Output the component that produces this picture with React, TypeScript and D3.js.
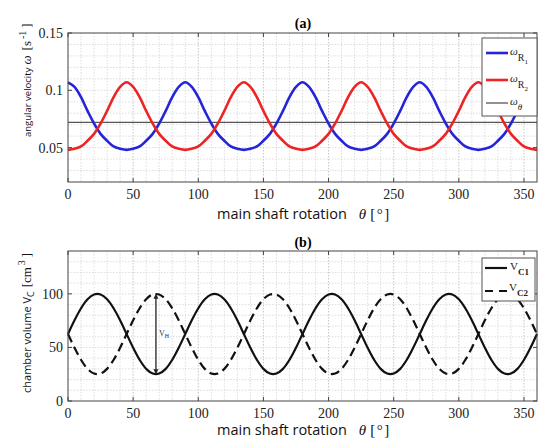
import React from "react";
import * as d3 from "d3";

// main shaft angle samples (deg)
const theta = [
  0, 5, 10, 15, 20, 25, 30, 35, 40, 45, 50, 55, 60, 65, 70, 75, 80, 85, 90, 95,
  100, 105, 110, 115, 120, 125, 130, 135, 140, 145, 150, 155, 160, 165, 170,
  175, 180, 185, 190, 195, 200, 205, 210, 215, 220, 225, 230, 235, 240, 245,
  250, 255, 260, 265, 270, 275, 280, 285, 290, 295, 300, 305, 310, 315, 320,
  325, 330, 335, 340, 345, 350, 355, 360,
];

// (a) angular velocities
const omegaR1 = [
  0.107, 0.103, 0.094, 0.082, 0.071, 0.062, 0.056, 0.051, 0.049, 0.048, 0.049,
  0.051, 0.056, 0.062, 0.071, 0.082, 0.094, 0.103, 0.107, 0.103, 0.094, 0.082,
  0.071, 0.062, 0.056, 0.051, 0.049, 0.048, 0.049, 0.051, 0.056, 0.062, 0.071,
  0.082, 0.094, 0.103, 0.107, 0.103, 0.094, 0.082, 0.071, 0.062, 0.056, 0.051,
  0.049, 0.048, 0.049, 0.051, 0.056, 0.062, 0.071, 0.082, 0.094, 0.103, 0.107,
  0.103, 0.094, 0.082, 0.071, 0.062, 0.056, 0.051, 0.049, 0.048, 0.049, 0.051,
  0.056, 0.062, 0.071, 0.082, 0.094, 0.103, 0.107,
];
const omegaR2 = [
  0.048, 0.049, 0.051, 0.056, 0.062, 0.071, 0.082, 0.094, 0.103, 0.107, 0.103,
  0.094, 0.082, 0.071, 0.062, 0.056, 0.051, 0.049, 0.048, 0.049, 0.051, 0.056,
  0.062, 0.071, 0.082, 0.094, 0.103, 0.107, 0.103, 0.094, 0.082, 0.071, 0.062,
  0.056, 0.051, 0.049, 0.048, 0.049, 0.051, 0.056, 0.062, 0.071, 0.082, 0.094,
  0.103, 0.107, 0.103, 0.094, 0.082, 0.071, 0.062, 0.056, 0.051, 0.049, 0.048,
  0.049, 0.051, 0.056, 0.062, 0.071, 0.082, 0.094, 0.103, 0.107, 0.103, 0.094,
  0.082, 0.071, 0.062, 0.056, 0.051, 0.049, 0.048,
];
const omegaTheta = 0.072;

// (b) chamber volumes
const vC1 = [
  62.5, 75.3, 86.6, 95.0, 99.4, 99.4, 95.0, 86.6, 75.3, 62.5, 49.7, 38.4, 30.0,
  25.6, 25.6, 30.0, 38.4, 49.7, 62.5, 75.3, 86.6, 95.0, 99.4, 99.4, 95.0, 86.6,
  75.3, 62.5, 49.7, 38.4, 30.0, 25.6, 25.6, 30.0, 38.4, 49.7, 62.5, 75.3, 86.6,
  95.0, 99.4, 99.4, 95.0, 86.6, 75.3, 62.5, 49.7, 38.4, 30.0, 25.6, 25.6, 30.0,
  38.4, 49.7, 62.5, 75.3, 86.6, 95.0, 99.4, 99.4, 95.0, 86.6, 75.3, 62.5, 49.7,
  38.4, 30.0, 25.6, 25.6, 30.0, 38.4, 49.7, 62.5,
];
const vC2 = [
  62.5, 49.7, 38.4, 30.0, 25.6, 25.6, 30.0, 38.4, 49.7, 62.5, 75.3, 86.6, 95.0,
  99.4, 99.4, 95.0, 86.6, 75.3, 62.5, 49.7, 38.4, 30.0, 25.6, 25.6, 30.0, 38.4,
  49.7, 62.5, 75.3, 86.6, 95.0, 99.4, 99.4, 95.0, 86.6, 75.3, 62.5, 49.7, 38.4,
  30.0, 25.6, 25.6, 30.0, 38.4, 49.7, 62.5, 75.3, 86.6, 95.0, 99.4, 99.4, 95.0,
  86.6, 75.3, 62.5, 49.7, 38.4, 30.0, 25.6, 25.6, 30.0, 38.4, 49.7, 62.5, 75.3,
  86.6, 95.0, 99.4, 99.4, 95.0, 86.6, 75.3, 62.5,
];
// V_H marker: angle and volume span
const vHTheta = 67.5;
const vHRange = [25, 100];

const xTicks = [0, 50, 100, 150, 200, 250, 300, 350];
const omegaTicks = [0.05, 0.1, 0.15];
const volumeTicks = [0, 50, 100];

const W = 539;
const H = 439;
const SERIF = "'Liberation Serif', 'Times New Roman', serif";
const SANS = "'Open Sans', 'Liberation Sans', sans-serif";

const x = d3.scaleLinear().domain([0, 360]).range([68, 537]);

function Frame({ y, ticks, minor, fmt }) {
  const [yb, yt] = y.range();
  const [x0, x1] = x.range();
  const xMinor = d3.range(10, 360, 10);
  return (
    <g>
      <rect x={x0} y={yt} width={x1 - x0} height={yb - yt} fill="#fff" />
      {xMinor.map((v) => (
        <line key={"gx" + v} x1={x(v)} x2={x(v)} y1={yt} y2={yb}
          stroke={v % 50 === 0 ? "#b8b8b8" : "#d4d4d4"} strokeWidth={0.8} strokeDasharray="1.5,1.5" />
      ))}
      {minor.map((v) => (
        <line key={"gy" + v} x1={x0} x2={x1} y1={y(v)} y2={y(v)}
          stroke="#d4d4d4" strokeWidth={0.8} strokeDasharray="1.5,1.5" />
      ))}
      {xTicks.map((v) => (
        <g key={"tx" + v}>
          <line x1={x(v)} x2={x(v)} y1={yb} y2={yb - 4} stroke="#444" />
          <line x1={x(v)} x2={x(v)} y1={yt} y2={yt + 4} stroke="#444" />
          <text x={x(v)} y={yb + 17} textAnchor="middle" fontFamily={SERIF} fontSize={14} fill="#222">
            {v}
          </text>
        </g>
      ))}
      {ticks.map((v) => (
        <g key={"ty" + v}>
          <line x1={x0} x2={x0 + 4} y1={y(v)} y2={y(v)} stroke="#444" />
          <line x1={x1} x2={x1 - 4} y1={y(v)} y2={y(v)} stroke="#444" />
          <text x={x0 - 5} y={y(v) + 5} textAnchor="end" fontFamily={SERIF} fontSize={14} fill="#222">
            {fmt(v)}
          </text>
        </g>
      ))}
    </g>
  );
}

function Box({ y }) {
  const [yb, yt] = y.range();
  const [x0, x1] = x.range();
  return <rect x={x0} y={yt} width={x1 - x0} height={yb - yt} fill="none" stroke="#444" strokeWidth={1} />;
}

function XLabel({ baseline }) {
  return (
    <text x={217} y={baseline} fontFamily={SANS} fontSize={14.5} fill="#111">
      main shaft rotation
      <tspan dx={12} fontFamily={SERIF} fontStyle="italic" fontSize={15}>θ</tspan>
      <tspan dx={4} fontFamily={SERIF} fontSize={15} letterSpacing={1.5}>[°]</tspan>
    </text>
  );
}

export default function App() {
  const yA = d3.scaleLinear().domain([0.02, 0.15]).range([182, 33]);
  const yB = d3.scaleLinear().domain([0, 140]).range([401, 251]);

  const curve = d3.curveCatmullRom.alpha(0.5);
  const lineA = d3.line<number>().x((_, i) => x(theta[i])).y((d) => yA(d)).curve(curve);
  const lineB = d3.line<number>().x((_, i) => x(theta[i])).y((d) => yB(d)).curve(curve);

  const vx = x(vHTheta);
  const vLo = yB(vHRange[0]);
  const vHi = yB(vHRange[1]);

  return (
    <svg width={W} height={H} style={{ position: "absolute", left: 0, top: 0, background: "#fff" }}>
      {/* ---------- (a) ---------- */}
      <text x={303} y={28} textAnchor="middle" fontFamily={SERIF} fontWeight="bold" fontSize={14}>(a)</text>
      <Frame y={yA} ticks={omegaTicks} minor={d3.range(0.03, 0.145, 0.01)} fmt={(v) => String(+v.toFixed(2))} />
      <line x1={x(0)} x2={x(360)} y1={yA(omegaTheta)} y2={yA(omegaTheta)} stroke="#555" strokeWidth={1.3} />
      <path d={lineA(omegaR1)} fill="none" stroke="#2424d8" strokeWidth={2.6} />
      <path d={lineA(omegaR2)} fill="none" stroke="#ec2424" strokeWidth={2.6} />
      <Box y={yA} />
      <g>
        <rect x={482} y={38} width={55} height={78} fill="#fff" stroke="#555" strokeWidth={1} />
        <line x1={486} x2={508} y1={53} y2={53} stroke="#2424d8" strokeWidth={2.6} />
        <line x1={486} x2={508} y1={80} y2={80} stroke="#ec2424" strokeWidth={2.6} />
        <line x1={486} x2={508} y1={103} y2={103} stroke="#555" strokeWidth={1.3} />
        <text x={510} y={55} fontFamily={SERIF} fontSize={11} fill="#222">
          <tspan fontStyle="italic">ω</tspan>
          <tspan dy={6} fontSize={10}>R</tspan>
          <tspan dy={3} fontSize={7}>1</tspan>
        </text>
        <text x={510} y={82} fontFamily={SERIF} fontSize={11} fill="#222">
          <tspan fontStyle="italic">ω</tspan>
          <tspan dy={6} fontSize={10}>R</tspan>
          <tspan dy={3} fontSize={7}>2</tspan>
        </text>
        <text x={510} y={105} fontFamily={SERIF} fontSize={11} fill="#222">
          <tspan fontStyle="italic">ω</tspan>
          <tspan dy={5} fontSize={9} fontStyle="italic">θ</tspan>
        </text>
      </g>
      <text transform="translate(31,137) rotate(-90)" fontFamily={SANS} fontSize={9.5} fill="#111">
        angular velocity
        <tspan dx={3} fontFamily={SERIF} fontStyle="italic" fontSize={13}>ω</tspan>
        <tspan dx={5} fontFamily={SERIF} fontSize={13}>[s</tspan>
        <tspan dx={2} dy={-5} fontFamily={SERIF} fontSize={10}>-1</tspan>
        <tspan dx={3} dy={5} fontFamily={SERIF} fontSize={13}>]</tspan>
      </text>
      <XLabel baseline={219} />

      {/* ---------- (b) ---------- */}
      <text x={303} y={247} textAnchor="middle" fontFamily={SERIF} fontWeight="bold" fontSize={14}>(b)</text>
      <Frame y={yB} ticks={volumeTicks} minor={d3.range(10, 140, 10)} fmt={(v) => String(v)} />
      <path d={lineB(vC2)} fill="none" stroke="#111" strokeWidth={2.2} strokeDasharray="9,5" />
      <path d={lineB(vC1)} fill="none" stroke="#111" strokeWidth={2.2} />
      <line x1={vx} x2={vx} y1={vHi + 2} y2={vLo - 2} stroke="#222" strokeWidth={1.3} />
      <path d={`M${vx},${vHi} l-2.5,5 h5 z`} fill="#222" />
      <path d={`M${vx},${vLo} l-2.5,-5 h5 z`} fill="#222" />
      <text x={vx + 3} y={336} fontFamily={SERIF} fontSize={8} fill="#333">
        V<tspan dy={2} fontSize={6}>H</tspan>
      </text>
      <Box y={yB} />
      <g>
        <rect x={482} y={258} width={53} height={43} fill="#fff" stroke="#555" strokeWidth={1} />
        <line x1={485} x2={507} y1={268} y2={268} stroke="#111" strokeWidth={2.2} />
        <line x1={485} x2={507} y1={291} y2={291} stroke="#111" strokeWidth={2.2} strokeDasharray="8,6" />
        <text x={510} y={270} fontFamily={SERIF} fontSize={11} fill="#222">
          V<tspan dy={5} fontSize={9} fontWeight="bold">C1</tspan>
        </text>
        <text x={509} y={291} fontFamily={SERIF} fontSize={11} fill="#222">
          V<tspan dy={5} fontSize={9} fontWeight="bold">C2</tspan>
        </text>
      </g>
      <text transform="translate(31,393) rotate(-90)" fontFamily={SANS} fontSize={11} fill="#111">
        chamber volume V
        <tspan dy={3} fontSize={9}>C</tspan>
        <tspan dx={4} dy={-3} fontFamily={SERIF} fontSize={13}>[cm</tspan>
        <tspan dx={2} dy={-6} fontFamily={SERIF} fontSize={10}>3</tspan>
        <tspan dx={3} dy={6} fontFamily={SERIF} fontSize={13}>]</tspan>
      </text>
      <XLabel baseline={435} />
    </svg>
  );
}
